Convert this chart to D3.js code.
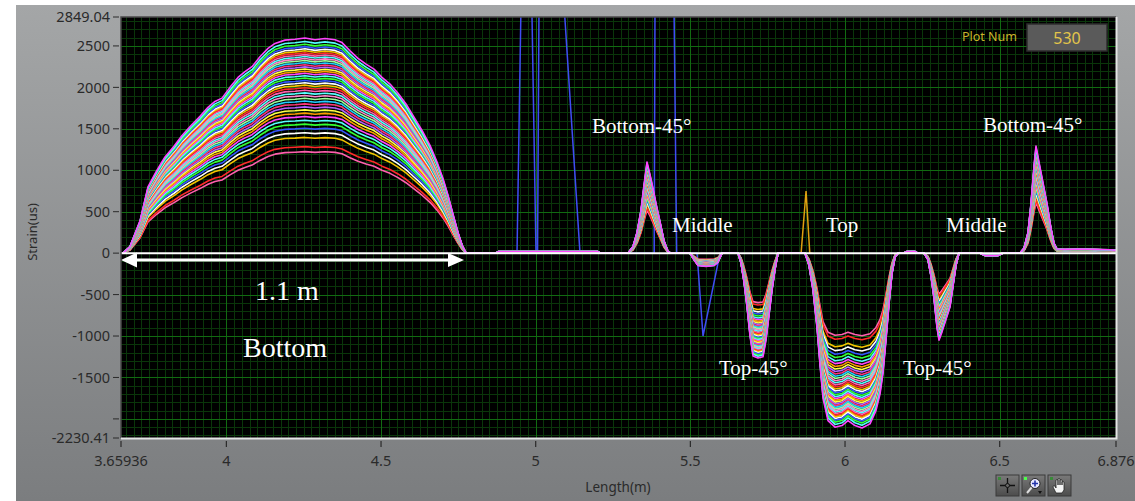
<!DOCTYPE html>
<html>
<head>
<meta charset="utf-8">
<script src="https://cdn.jsdelivr.net/npm/d3@7"></script>
<style>
  html, body { margin: 0; padding: 0; background: #fff; }
  svg { display: block; }
</style>
</head>
<body>
<div id="chart"></div>
<script>
// axis ticks
const xTicks = [3.65936, 4, 4.5, 5, 5.5, 6, 6.5, 6.876];
const xTickLabels = ['3.65936', '4', '4.5', '5', '5.5', '6', '6.5', '6.876'];
const yTicks = [2849.04, 2500, 2000, 1500, 1000, 500, 0, -500, -1000, -1500, -2000, -2230.41];
const yTickLabels = ['2849.04', '2500', '2000', '1500', '1000', '500', '0', '-500', '-1000', '-1500', '', '-2230.41'];

// strain profile along the beam at the last plotted load step (us)
const lengths = [
  3.6594, 3.6658, 3.6885, 3.7208, 3.7466, 3.7757, 3.8016, 3.8307, 3.8566, 3.8857,
  3.9148, 3.9406, 3.9632, 3.9859, 4.0117, 4.0376, 4.0602, 4.0829, 4.1087, 4.1346,
  4.1572, 4.1896, 4.2219, 4.2542, 4.2866, 4.3189, 4.3512, 4.3739, 4.3997, 4.4256,
  4.4515, 4.4773, 4.5031, 4.5290, 4.5549, 4.5807, 4.6066, 4.6325, 4.6583, 4.6810,
  4.7003, 4.7165, 4.7327, 4.7488, 4.7618, 4.7747,
  4.8700, 4.8800, 5.2000, 5.2100,
  5.2984, 5.3146, 5.3275, 5.3404, 5.3501, 5.3598, 5.3695, 5.3792, 5.3889, 5.4019,
  5.4148, 5.4277, 5.4374,
  5.4988, 5.5117, 5.5247, 5.5505, 5.5764, 5.5893, 5.6023,
  5.6540, 5.6637, 5.6734, 5.6831, 5.6928, 5.7025, 5.7186, 5.7348, 5.7445, 5.7542,
  5.7639, 5.7736, 5.7833,
  5.8706, 5.8835, 5.8965, 5.9094, 5.9191, 5.9288, 5.9449, 5.9676, 5.9902, 6.0096,
  6.0322, 6.0548, 6.0807, 6.1001, 6.1130, 6.1227, 6.1324, 6.1421, 6.1518, 6.1615,
  6.1712,
  6.1874, 6.2003, 6.2262, 6.2359,
  6.2553, 6.2682, 6.2779, 6.2876, 6.2973, 6.3038, 6.3135, 6.3264, 6.3393, 6.3490,
  6.3587, 6.3684,
  6.4363, 6.4525, 6.4945, 6.5107,
  6.5656, 6.5786, 6.5915, 6.6012, 6.6109, 6.6173, 6.6270, 6.6400, 6.6529, 6.6658,
  6.6755, 6.6852, 6.7111, 6.7596, 6.8081, 6.8566, 6.8760
];
const lastStepStrain = [
  0, 0, 80, 390, 800, 1000, 1160, 1290, 1420, 1540,
  1650, 1760, 1830, 1870, 2000, 2120, 2190, 2250, 2370, 2470,
  2530, 2570, 2580, 2595, 2575, 2590, 2575, 2540, 2440, 2350,
  2280, 2220, 2120, 2040, 1930, 1800, 1640, 1480, 1300, 1100,
  900, 700, 470, 250, 100, 0,
  0, 20, 20, 0,
  0, 80, 250, 520, 820, 1100, 950, 780, 600, 380,
  150, 20, 0,
  0, -80, -150, -160, -150, -110, 0,
  0, -120, -350, -650, -1000, -1240, -1265, -1250, -1050, -750,
  -450, -200, 0,
  0, -150, -450, -900, -1350, -1750, -2020, -2100, -2080, -2020,
  -2080, -2110, -2060, -1900, -1700, -1450, -1050, -620, -250, -50,
  0,
  0, 20, 20, 0,
  0, -80, -280, -550, -900, -1050, -950, -800, -650, -400,
  -150, 0,
  0, -30, -30, 0,
  0, 60, 250, 600, 1050, 1293, 1100, 850, 600, 300,
  120, 50, 45, 50, 45, 40, 35
];
// load of each plotted curve, % of the last step
const plotLoads = [
  47.2, 49.5, 53.8, 56.0, 58.1, 60.0, 61.8, 63.5, 65.1, 66.6,
  68.0, 69.4, 70.7, 72.0, 73.3, 74.5, 75.7, 76.9, 78.1, 79.2,
  80.3, 81.4, 82.5, 83.6, 84.6, 85.6, 86.6, 87.6, 88.6, 89.6,
  90.5, 91.4, 92.3, 93.2, 94.1, 95.0, 96.0, 97.1, 98.4, 100.0
];
const plotColors = ['#ff5fae', '#ff2a2a', '#f5c400', '#ffffff', '#3355ff', '#33ff33', '#55ffff', '#ff44ff',
  '#ff9900', '#ffff44', '#b060ff', '#ff3377', '#22ccff', '#99ff99', '#ff88cc', '#55ffff'];

// noisy gauge trace (blue) and a single spike (orange)
const blueLengths = [4.930, 4.9396, 4.9525, 4.9874, 5.0010, 5.0060, 5.0107, 5.0915, 5.1432, 5.3830,
  5.3857, 5.4471, 5.4558, 5.5215, 5.5409, 5.5959, 5.6200];
const blueStrain = [0, 0, 3000, 3000, 0, 0, 3000, 3000, 0, 0,
  3000, 3000, 0, 0, -1000, 0, 0];
const orangeLengths = [5.850, 5.858, 5.874, 5.886, 5.895];
const orangeStrain = [0, 0, 750, 0, 0];

const W = 1135, H = 501;
const plot = { left: 121, right: 1116, top: 17, bottom: 438 };

const svg = d3.select('#chart').append('svg')
  .attr('width', W)
  .attr('height', H);

const defs = svg.append('defs');
const grad = defs.append('linearGradient').attr('id', 'panel').attr('x1', 0).attr('y1', 0).attr('x2', 0).attr('y2', 1);
grad.append('stop').attr('offset', '0%').attr('stop-color', '#a4a6a7');
grad.append('stop').attr('offset', '100%').attr('stop-color', '#7b7d7f');
const btnGrad = defs.append('linearGradient').attr('id', 'btn').attr('x1', 0).attr('y1', 0).attr('x2', 0).attr('y2', 1);
btnGrad.append('stop').attr('offset', '0%').attr('stop-color', '#7a7a7a');
btnGrad.append('stop').attr('offset', '100%').attr('stop-color', '#4c4c4c');
defs.append('clipPath').attr('id', 'clip')
  .append('rect')
  .attr('x', plot.left).attr('y', plot.top)
  .attr('width', plot.right - plot.left).attr('height', plot.bottom - plot.top);

// panel background
svg.append('rect').attr('x', 16).attr('y', 5).attr('width', W - 16).attr('height', H - 5).attr('fill', 'url(#panel)');
svg.append('rect')
  .attr('x', plot.left).attr('y', plot.top)
  .attr('width', plot.right - plot.left).attr('height', plot.bottom - plot.top)
  .attr('fill', '#000');

const x = d3.scaleLinear().domain([3.65936, 6.876]).range([plot.left, plot.right]);
const y = d3.scaleLinear().domain([-2230.41, 2849.04]).range([plot.bottom, plot.top]);

// grid
const grid = svg.append('g').attr('clip-path', 'url(#clip)');
grid.selectAll('.minor-x')
  .data(d3.range(147, 276).map(i => i * 0.025))
  .enter().append('line')
  .attr('x1', d => Math.round(x(d)) + 0.5).attr('x2', d => Math.round(x(d)) + 0.5)
  .attr('y1', plot.top).attr('y2', plot.bottom)
  .attr('stroke', '#0a360a').attr('stroke-width', 1);
grid.selectAll('.minor-y')
  .data(d3.range(-22, 29).map(i => i * 100))
  .enter().append('line')
  .attr('y1', d => Math.round(y(d)) + 0.5).attr('y2', d => Math.round(y(d)) + 0.5)
  .attr('x1', plot.left).attr('x2', plot.right)
  .attr('stroke', '#0a360a').attr('stroke-width', 1);
grid.selectAll('.major-x')
  .data(xTicks.slice(1, -1))
  .enter().append('line')
  .attr('x1', d => Math.round(x(d)) + 0.5).attr('x2', d => Math.round(x(d)) + 0.5)
  .attr('y1', plot.top).attr('y2', plot.bottom)
  .attr('stroke', '#116a11').attr('stroke-width', 1);
grid.selectAll('.major-y')
  .data(yTicks.slice(1, -1))
  .enter().append('line')
  .attr('y1', d => Math.round(y(d)) + 0.5).attr('y2', d => Math.round(y(d)) + 0.5)
  .attr('x1', plot.left).attr('x2', plot.right)
  .attr('stroke', '#116a11').attr('stroke-width', 1);

const line = d3.line().x(d => x(d[0])).y(d => y(d[1]));
const plots = svg.append('g').attr('clip-path', 'url(#clip)');

// stray traces under the load curves
plots.append('path')
  .attr('d', line(blueLengths.map((l, i) => [l, blueStrain[i]])))
  .attr('fill', 'none').attr('stroke', '#3f4cf5').attr('stroke-width', 1.5);
plots.append('path')
  .attr('d', line(orangeLengths.map((l, i) => [l, orangeStrain[i]])))
  .attr('fill', 'none').attr('stroke', '#e0a010').attr('stroke-width', 1.5);

// one curve per load step
plots.selectAll('.curve')
  .data(plotLoads)
  .enter().append('path')
  .attr('class', 'curve')
  .attr('d', p => line(lengths.map((l, i) => [l, lastStepStrain[i] * p / 100])))
  .attr('fill', 'none')
  .attr('stroke', (p, i) => plotColors[i % plotColors.length])
  .attr('stroke-width', 1.6)
  .attr('stroke-linejoin', 'round');

// zero line
svg.append('line')
  .attr('x1', plot.left).attr('x2', plot.right)
  .attr('y1', y(0)).attr('y2', y(0))
  .attr('stroke', '#ffffff').attr('stroke-width', 2);

// 1.1 m dimension arrow
const ay = 260;
svg.append('line')
  .attr('x1', 132).attr('x2', 452).attr('y1', ay).attr('y2', ay)
  .attr('stroke', '#fff').attr('stroke-width', 3);
svg.append('path').attr('d', `M121,${ay} L137,${ay - 7.5} L137,${ay + 7.5} Z`).attr('fill', '#fff');
svg.append('path').attr('d', `M464,${ay} L448,${ay - 7} L448,${ay + 7} Z`).attr('fill', '#fff');

// annotations
const notes = [
  { text: 'Bottom-45°', x: 592, y: 133, size: 21 },
  { text: 'Bottom-45°', x: 983, y: 132, size: 21 },
  { text: 'Middle', x: 672, y: 232, size: 21 },
  { text: 'Top', x: 826, y: 232, size: 21 },
  { text: 'Middle', x: 946, y: 232, size: 21 },
  { text: 'Top-45°', x: 719, y: 375, size: 21 },
  { text: 'Top-45°', x: 903, y: 375, size: 21 },
  { text: '1.1 m', x: 255, y: 300, size: 28 },
  { text: 'Bottom', x: 243, y: 357, size: 28 }
];
svg.selectAll('.note')
  .data(notes)
  .enter().append('text')
  .attr('x', d => d.x).attr('y', d => d.y)
  .attr('font-family', '"Liberation Serif", "Times New Roman", serif')
  .attr('font-size', d => d.size)
  .attr('fill', '#fff')
  .text(d => d.text);

// Plot Num indicator
svg.append('text')
  .attr('x', 962).attr('y', 41)
  .attr('font-family', '"Noto Sans", sans-serif').attr('font-size', 12.5)
  .attr('fill', '#c9b52a')
  .text('Plot Num');
svg.append('rect')
  .attr('x', 1027).attr('y', 24).attr('width', 80).attr('height', 27)
  .attr('fill', '#5a5a5a').attr('stroke', '#2e2e2e').attr('stroke-width', 1.5);
svg.append('text')
  .attr('x', 1067).attr('y', 44)
  .attr('text-anchor', 'middle')
  .attr('font-family', '"Noto Sans", sans-serif').attr('font-size', 16)
  .attr('fill', '#e3c54a')
  .text('530');

// plot frame
svg.append('path')
  .attr('d', `M${plot.left},${plot.bottom} V${plot.top} H${plot.right}`)
  .attr('fill', 'none').attr('stroke', '#4a4a4a').attr('stroke-width', 1.5);
svg.append('path')
  .attr('d', `M${plot.left},${plot.bottom + 0.5} H${plot.right + 0.5} V${plot.top}`)
  .attr('fill', 'none').attr('stroke', '#e4e4e4').attr('stroke-width', 2);

// y axis
const yAxis = svg.append('g');
yAxis.selectAll('line')
  .data(yTicks)
  .enter().append('line')
  .attr('x1', 113).attr('x2', 119)
  .attr('y1', d => y(d)).attr('y2', d => y(d))
  .attr('stroke', '#2a2a2a').attr('stroke-width', 1);
yAxis.selectAll('text')
  .data(yTicks)
  .enter().append('text')
  .attr('x', 110).attr('y', d => y(d))
  .attr('dy', '0.36em')
  .attr('text-anchor', 'end')
  .attr('font-family', '"Noto Sans", sans-serif').attr('font-size', 14.5)
  .attr('fill', '#2a2a2a')
  .text((d, i) => yTickLabels[i]);
svg.append('text')
  .attr('transform', 'translate(37,232) rotate(-90)')
  .attr('text-anchor', 'middle')
  .attr('font-family', '"Noto Sans", sans-serif').attr('font-size', 13)
  .attr('fill', '#2a2a2a')
  .text('Strain(us)');

// x axis
const xAxis = svg.append('g');
xAxis.selectAll('line')
  .data(xTicks)
  .enter().append('line')
  .attr('x1', d => x(d)).attr('x2', d => x(d))
  .attr('y1', 441).attr('y2', 447)
  .attr('stroke', '#2a2a2a').attr('stroke-width', 1.2);
xAxis.selectAll('text')
  .data(xTicks)
  .enter().append('text')
  .attr('x', d => x(d)).attr('y', 466)
  .attr('text-anchor', 'middle')
  .attr('font-family', '"Noto Sans", sans-serif').attr('font-size', 14.5)
  .attr('fill', '#2a2a2a')
  .text((d, i) => xTickLabels[i]);
svg.append('text')
  .attr('x', 618).attr('y', 492)
  .attr('text-anchor', 'middle')
  .attr('font-family', '"Noto Sans", sans-serif').attr('font-size', 13.5)
  .attr('fill', '#2a2a2a')
  .text('Length(m)');

// graph palette buttons
const buttons = [996, 1022, 1048];
const btn = svg.selectAll('.btn')
  .data(buttons)
  .enter().append('g')
  .attr('transform', d => `translate(${d},475)`);
btn.append('rect')
  .attr('width', 23).attr('height', 21)
  .attr('fill', 'url(#btn)').attr('stroke', '#3a3a3a');
btn.append('rect')
  .attr('x', 2).attr('y', 2).attr('width', 3).attr('height', 3)
  .attr('fill', (d, i) => i === 1 ? '#4dff4d' : '#3a8a3a');
const b0 = svg.append('g').attr('transform', 'translate(996,475)');
b0.append('path').attr('d', 'M11.5,3 V18 M4,10.5 H19').attr('stroke', '#111').attr('stroke-width', 1.3);
b0.append('circle').attr('cx', 11.5).attr('cy', 10.5).attr('r', 2).attr('fill', '#666').attr('stroke', '#111');
const b1 = svg.append('g').attr('transform', 'translate(1022,475)');
b1.append('path').attr('d', 'M5,18 L10,12').attr('stroke', '#ddd').attr('stroke-width', 2);
b1.append('circle').attr('cx', 13).attr('cy', 8.5).attr('r', 5).attr('fill', '#e8e8ff').attr('stroke', '#222');
b1.append('path').attr('d', 'M13,5.5 V11.5 M10,8.5 H16').attr('stroke', '#2233aa').attr('stroke-width', 1.6);
b1.append('path').attr('d', 'M16,16 L20,16 L18,19 Z').attr('fill', '#111');
const b2 = svg.append('g').attr('transform', 'translate(1048,475)');
b2.append('path')
  .attr('d', 'M8,18 L5,12 Q5,10 7,11 L8,13 L8,5 Q9,4 10,5 L10,10 L10,4 Q11,3 12,4 L12,10 L12,5 Q13,4 14,5 L14,10 L14,7 Q15,6 16,7 L16,15 L14,18 Z')
  .attr('fill', '#f4f4f4').attr('stroke', '#222').attr('stroke-width', 0.8);
</script>
</body>
</html>
